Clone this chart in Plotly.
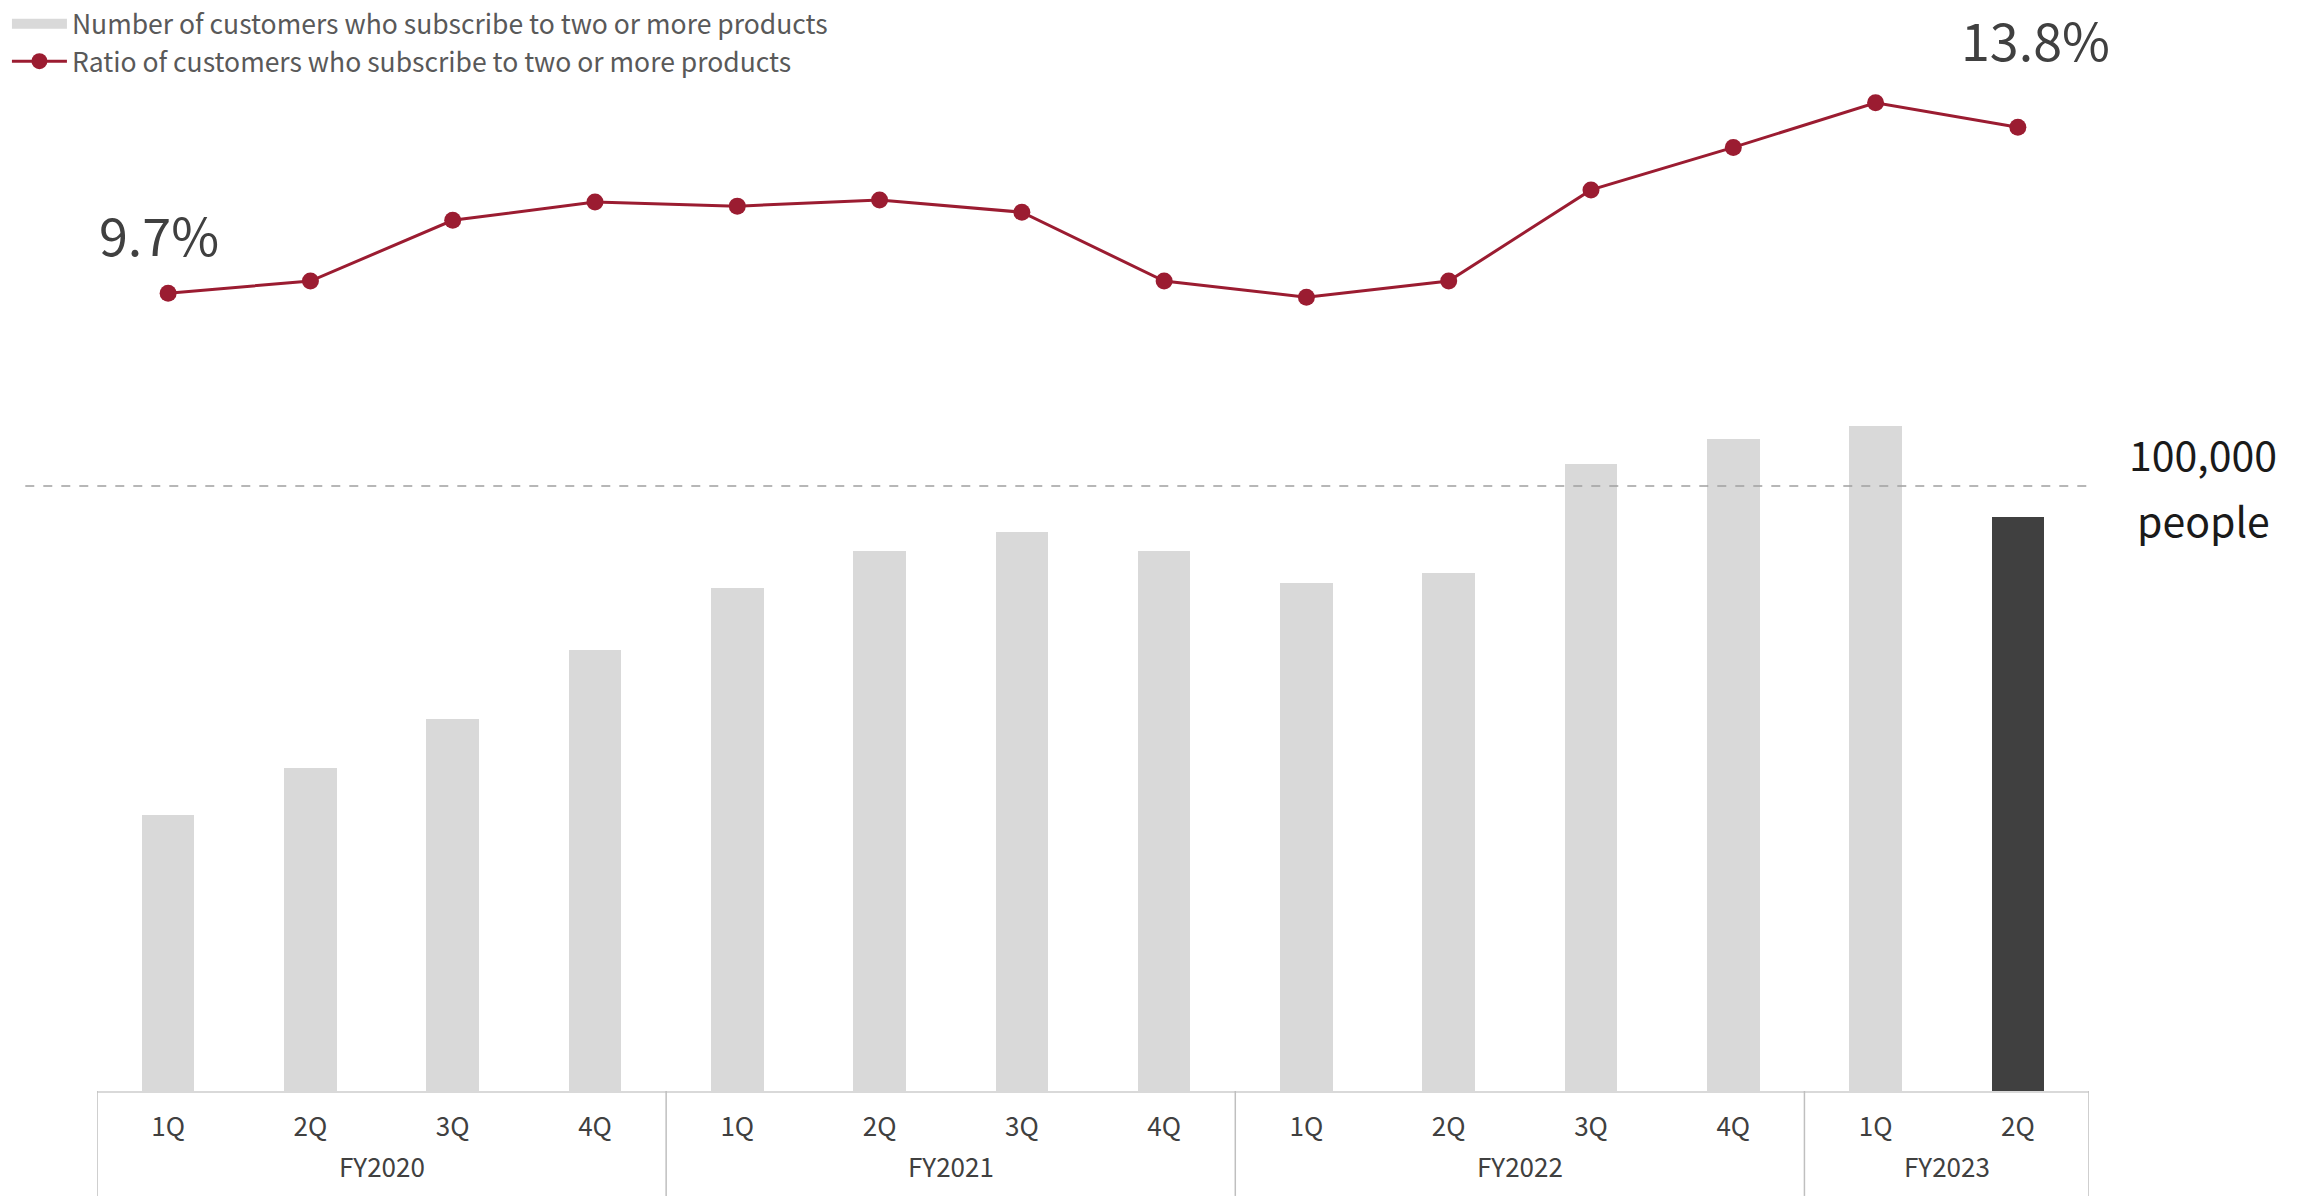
import plotly.graph_objects as go

# ---- data ----
quarters = ["1Q", "2Q", "3Q", "4Q", "1Q", "2Q", "3Q", "4Q", "1Q", "2Q", "3Q", "4Q", "1Q", "2Q"]
fiscal_years = ["FY2020", "FY2021", "FY2022", "FY2023"]
fy_quarter_counts = [4, 4, 4, 2]
customers = [45600, 53400, 61500, 72900, 83200, 89300, 92400, 89300,
             83900, 85600, 103700, 107800, 110000, 94900]
ratio_pct = [9.7, 10.0, 11.5, 11.95, 11.85, 12.0, 11.7, 10.0,
             9.6, 10.0, 12.25, 13.3, 14.4, 13.8]
reference_value = 100000
reference_label_top = "100,000"
reference_label_bottom = "people"
bar_name = "Number of customers who subscribe to two or more products"
line_name = "Ratio of customers who subscribe to two or more products"

FONT = "Noto Sans CJK JP"
RED = "#9b1c31"
BAR_GRAY = "#d9d9d9"
x = list(range(len(quarters)))
bar_colors = [BAR_GRAY] * (len(x) - 1) + ["#404040"]

fig = go.Figure()
fig.add_trace(go.Bar(
    x=x, y=customers, name=bar_name, width=0.37,
    marker=dict(color=bar_colors, line=dict(width=0)),
    yaxis="y", showlegend=False,
))
# legend-only entry giving the wide grey swatch for the bar series
fig.add_trace(go.Scatter(
    x=[None], y=[None], name=bar_name, mode="lines",
    line=dict(color=BAR_GRAY, width=13), yaxis="y",
))
fig.add_trace(go.Scatter(
    x=x, y=ratio_pct, name=line_name, mode="lines+markers",
    line=dict(color=RED, width=3),
    marker=dict(color=RED, size=17),
    yaxis="y2",
))

# boundaries between fiscal years
bounds = [-0.5]
for c in fy_quarter_counts:
    bounds.append(bounds[-1] + c)

shapes = []
for b in bounds:
    shapes.append(dict(type="line", xref="x", yref="paper", x0=b, x1=b,
                       y0=0, y1=-0.0962, line=dict(color="#bfbfbf", width=1.5)))
shapes.append(dict(type="line", xref="paper", yref="y", x0=-0.036, x1=1.0,
                   y0=reference_value, y1=reference_value,
                   line=dict(color="#a0a0a0", width=1.5, dash="dash")))

annotations = []
for i, fy in enumerate(fiscal_years):
    cx = (bounds[i] + bounds[i + 1]) / 2
    annotations.append(dict(x=cx, y=-0.068, xref="x", yref="paper", text=fy,
                            showarrow=False, yanchor="middle",
                            font=dict(family=FONT, size=26, color="#404040")))
annotations.append(dict(x=x[0], y=ratio_pct[0], xref="x", yref="y2",
                        text=f"{ratio_pct[0]}%", showarrow=False,
                        xshift=-9, yshift=60, yanchor="middle",
                        font=dict(family=FONT, size=52, color="#404040")))
annotations.append(dict(x=x[-1], y=ratio_pct[-1], xref="x", yref="y2",
                        text=f"{ratio_pct[-1]}%", showarrow=False,
                        xshift=18, yshift=89, yanchor="middle",
                        font=dict(family=FONT, size=52, color="#404040")))
annotations.append(dict(x=1.0, y=reference_value, xref="paper", yref="y",
                        text=reference_label_top, showarrow=False,
                        xanchor="center", yanchor="bottom", xshift=114, yshift=1,
                        font=dict(family=FONT, size=41, color="#1a1a1a")))
annotations.append(dict(x=1.0, y=reference_value, xref="paper", yref="y",
                        text=reference_label_bottom, showarrow=False,
                        xanchor="center", yanchor="top", xshift=114, yshift=-1,
                        font=dict(family=FONT, size=41, color="#1a1a1a")))

fig.update_layout(
    width=2311, height=1196,
    margin=dict(l=97, r=222, t=0, b=105, autoexpand=False),
    paper_bgcolor="white", plot_bgcolor="white",
    showlegend=True,
    legend=dict(xref="container", yref="container", x=0.003, y=1.0,
                xanchor="left", yanchor="top",
                font=dict(family=FONT, size=26.5, color="#595959"),
                tracegroupgap=0, itemwidth=55, bgcolor="rgba(0,0,0,0)"),
    xaxis=dict(range=[-0.5, len(x) - 0.5], tickvals=x, ticktext=quarters,
               showgrid=False, zeroline=False,
               showline=True, linecolor="#d9d9d9", linewidth=2,
               ticks="outside", ticklen=12, tickcolor="rgba(0,0,0,0)",
               tickfont=dict(family=FONT, size=26, color="#404040")),
    yaxis=dict(range=[0, 180330], visible=False, showgrid=False),
    yaxis2=dict(range=[-10.0, 16.94], overlaying="y", visible=False, showgrid=False),
    shapes=shapes, annotations=annotations,
    bargap=0,
)

fig.write_html("out.html")
